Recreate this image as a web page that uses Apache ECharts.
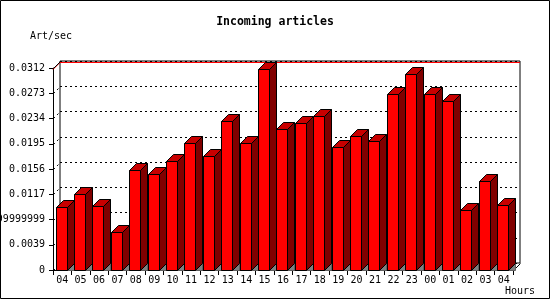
<!DOCTYPE html>
<html>
<head>
<meta charset="utf-8">
<script src="https://cdn.jsdelivr.net/npm/echarts@6/dist/echarts.min.js"></script>
<style>html,body{margin:0;padding:0;background:#fff}#c{width:550px;height:300px}</style>
</head>
<body>
<div id="c"></div>
<script>
const categories = ['04','05','06','07','08','09','10','11','12','13','14','15','16','17','18','19','20','21','22','23','00','01','02','03','04'];
const values = [0.00968,0.01169,0.00984,0.00582,0.0154,0.01478,0.01679,0.01957,0.01756,0.02301,0.01957,0.0310,0.02178,0.0227,0.02379,0.0190,0.0207,0.01992,0.02718,0.03027,0.02718,0.0261,0.00927,0.01375,0.01004];
const yTickValues = [0,0.0039,0.0078,0.0117,0.0156,0.0195,0.0234,0.0273,0.0312];
const yTickLabels = ['0','0.0039','0.0077999999999','0.0117','0.0156','0.0195','0.0234','0.0273','0.0312'];
const yMax = 0.0312, yInterval = 0.0039;

const FONT = '"DejaVu Sans Mono", "Liberation Mono", monospace';
const D = 7;
const chart = echarts.init(document.getElementById('c'), null, {renderer:'canvas'});
const maxVal = Math.max.apply(null, values);
const n = categories.length;

function labelFor(v){
  for (let k=0;k<yTickValues.length;k++) if (Math.abs(yTickValues[k]-v) < 1e-9) return yTickLabels[k];
  return '';
}

const option = {
  animation:false,
  backgroundColor:'#fff',
  title:{text:'Incoming articles', left:'center', top:16, padding:0,
    textStyle:{fontFamily:FONT, fontSize:11.5, fontWeight:'bold', color:'#000'}},
  graphic:[
    {type:'rect', shape:{x:0.5,y:0.5,width:549,height:298}, style:{fill:null, stroke:'#000', lineWidth:1}, z:100},
    {type:'text', left:30, top:31, style:{text:'Art/sec', font:'10px '+FONT, fill:'#000'}},
    {type:'text', left:505, top:286, style:{text:'Hours', font:'10px '+FONT, fill:'#000'}}
  ],
  grid:[
    {left:53, right:37, top:68, bottom:30, containLabel:false, outerBoundsMode:'none'},
    {left:60, right:30, top:61, bottom:37, containLabel:false, outerBoundsMode:'none', show:true, borderColor:'#000', borderWidth:1, backgroundColor:'transparent'}
  ],
  xAxis:[
    {type:'category', gridIndex:0, data:categories, boundaryGap:true,
      axisLine:{lineStyle:{color:'#000',width:1}},
      axisTick:{show:true, length:5, lineStyle:{color:'#000'}},
      axisLabel:{color:'#000', fontFamily:FONT, fontSize:10, margin:5, interval:0}},
    {type:'category', gridIndex:1, data:categories, boundaryGap:true, show:false}
  ],
  yAxis:[
    {type:'value', gridIndex:0, min:0, max:yMax, interval:yInterval,
      axisLine:{show:true, lineStyle:{color:'#000'}},
      axisTick:{show:true, length:4, lineStyle:{color:'#000'}},
      splitLine:{show:false},
      axisLabel:{color:'#000', fontFamily:FONT, fontSize:10, margin:8, formatter:function(v){return labelFor(v);}}},
    {type:'value', gridIndex:1, min:0, max:yMax, interval:yInterval,
      axisLine:{show:false}, axisTick:{show:false}, axisLabel:{show:false},
      splitLine:{show:true, lineStyle:{color:'#000', width:1, type:[2,3]}}}
  ],
  series:[
    {type:'custom', xAxisIndex:1, yAxisIndex:1, z:3, silent:true,
      data:[[0, maxVal]],
      renderItem:function(params, api){
        const band = api.size([1,0])[0];
        const pL = api.coord([0, api.value(1)]);
        const pR = api.coord([n-1, api.value(1)]);
        const xl = pL[0]-band/2, xr = pR[0]+band/2, y = Math.round(pL[1])+0.5;
        return {type:'group', children:[
          {type:'polyline', shape:{points:[[xl-D, y+D],[xl, y],[xr, y]]}, style:{stroke:'#ff0000', fill:null, lineWidth:1}}
        ]};
      }},
    {type:'custom', xAxisIndex:0, yAxisIndex:0, z:4, silent:true,
      data:yTickValues.map(function(v){return [0, v];}),
      renderItem:function(params, api){
        const band = api.size([1,0])[0];
        const p = api.coord([0, api.value(1)]);
        const x = Math.round(p[0]-band/2)+0.5, y = Math.round(p[1])+0.5;
        const solid = Math.abs(api.value(1)-yMax) < 1e-9;
        const children = [{type:'line', shape:{x1:x, y1:y, x2:x+D, y2:y-D},
          style:{stroke:'#000', lineWidth:1, lineDash: solid ? null : [2,3]}}];
        if (api.value(1) === 0) {
          const pr = api.coord([n-1, 0]);
          const xr = Math.round(pr[0]+band/2)+0.5;
          children.push({type:'line', shape:{x1:xr, y1:y, x2:xr+D, y2:y-D}, style:{stroke:'#000', lineWidth:1}});
        }
        return {type:'group', children:children};
      }},
    {type:'custom', xAxisIndex:0, yAxisIndex:0, z:10, silent:true,
      data:values.map(function(v,i){return [i, v];}),
      renderItem:function(params, api){
        const i = api.value(0), v = api.value(1);
        const band = api.size([1,0])[0];
        const top = api.coord([i, v]), base = api.coord([i, 0]);
        const xl = Math.round(top[0]-band/2+2.5)+0.5;
        const xr = xl + 11;
        const y1 = Math.round(top[1])+0.5, y0 = Math.round(base[1])+0.5;
        const S = {stroke:'#000', lineWidth:1};
        return {type:'group', children:[
          {type:'polygon', shape:{points:[[xr,y0],[xr+D,y0-D],[xr+D,y0]]}, style:{fill:'#808080', stroke:'#606060', lineWidth:1}},
          {type:'polygon', shape:{points:[[xr,y1],[xr+D,y1-D],[xr+D,y0-D],[xr,y0]]}, style:Object.assign({fill:'#800000'}, S)},
          {type:'polygon', shape:{points:[[xl,y1],[xl+D,y1-D],[xr+D,y1-D],[xr,y1]]}, style:Object.assign({fill:'#c80000'}, S)},
          {type:'rect', shape:{x:xl, y:y1, width:11, height:y0-y1}, style:Object.assign({fill:'#ff0000'}, S)}
        ]};
      }}
  ]
};
chart.setOption(option);
</script>
</body>
</html>
